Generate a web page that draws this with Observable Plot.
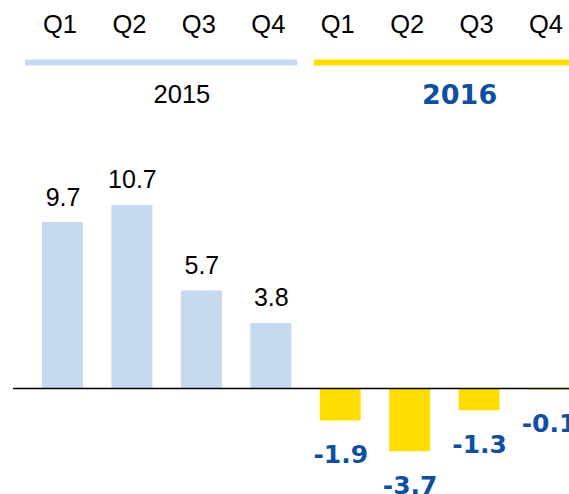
<!DOCTYPE html>
<html>
<head>
<meta charset="utf-8">
<script src="https://cdn.jsdelivr.net/npm/d3@7"></script>
<script src="https://cdn.jsdelivr.net/npm/@observablehq/plot@0.6"></script>
<style>
  html, body { margin: 0; padding: 0; background: #fff; overflow: hidden; }
  #chart { width: 569px; }
</style>
</head>
<body>
<div id="chart"></div>
<script>
// ---- data ----
const years = ["2015", "2015", "2015", "2015", "2016", "2016", "2016", "2016"];
const quarters = ["Q1", "Q2", "Q3", "Q4", "Q1", "Q2", "Q3", "Q4"];
const values = [9.7, 10.7, 5.7, 3.8, -1.9, -3.7, -1.3, -0.1];
const yearLabels = ["2015", "2016"];

// ---- styles ----
const LIGHT_BLUE = "#c6d9f0";
const YELLOW = "#ffdd00";
const DARK_BLUE = "#0e4f9f";
const FONT = "'Liberation Sans', Arial, sans-serif";
const BOLD_FONT = "'DejaVu Sans', 'Liberation Sans', Arial, sans-serif";

const data = values.map((v, i) => ({
  key: years[i] + " " + quarters[i],
  year: years[i],
  quarter: quarters[i],
  value: v,
  label: v.toFixed(1)
}));
const spans = yearLabels.map(y => ({year: y, first: y + " Q1", mid: y + " Q3", last: y + " Q4"}));

const xScale = {type: "band", domain: data.map(d => d.key), range: [13.55, 597.5], padding: 0.41, round: false, axis: null};
const colorScale = {domain: yearLabels, range: [LIGHT_BLUE, YELLOW]};

// ---- header ----
const header = Plot.plot({
  width: 569, height: 120,
  marginTop: 0, marginRight: 0, marginBottom: 0, marginLeft: 0,
  style: {fontFamily: FONT, background: "#fff"},
  x: xScale,
  y: {type: "point", domain: ["quarter", "rule", "year"], range: [24, 94.7], padding: 0, axis: null},
  color: colorScale,
  marks: [
    Plot.text(data, {x: "key", y: () => "quarter", text: "quarter", fontSize: 25.5, fill: "#000", dx: -3}),
    Plot.ruleY(spans.filter(s => s.year === "2015"), {x1: "first", x2: "last", y: () => "rule", stroke: "year", strokeWidth: 6, insetLeft: -17, insetRight: -6, dy: 3}),
    Plot.ruleY(spans.filter(s => s.year === "2016"), {x1: "first", x2: "last", y: () => "rule", stroke: "year", strokeWidth: 6, insetLeft: -6, insetRight: -6, dy: 3}),
    Plot.text(spans.filter(s => s.year === "2015"), {x: "mid", y: () => "year", text: "year", fontSize: 25.5, fill: "#000", dx: -20}),
    Plot.text(spans.filter(s => s.year === "2016"), {x: "mid", y: () => "year", text: "year", fontSize: 27, fontWeight: "bold", fontFamily: BOLD_FONT, fill: DARK_BLUE, dx: -20, dy: 1})
  ]
});

// ---- bars ----
const main = Plot.plot({
  width: 569, height: 374,
  marginTop: 0, marginRight: 0, marginBottom: 0, marginLeft: 0,
  style: {fontFamily: FONT, background: "#fff"},
  x: xScale,
  y: {domain: [-6.195, 15.663], axis: null},
  color: colorScale,
  marks: [
    Plot.barY(data, {x: "key", y: "value", fill: "year"}),
    Plot.ruleY([0], {stroke: "#000", strokeWidth: 1.3, insetLeft: 13}),
    Plot.text(data.filter(d => d.value >= 0), {x: "key", y: "value", text: "label", lineAnchor: "bottom", dy: -17, fontSize: 25, fill: "#000"}),
    Plot.text(data.filter(d => d.value < 0), {x: "key", y: "value", text: "label", lineAnchor: "bottom", dy: 42, fontSize: 25, fontWeight: "bold", fontFamily: BOLD_FONT, fill: DARK_BLUE})
  ]
});

const chart = document.getElementById("chart");
chart.appendChild(header);
chart.appendChild(main);
</script>
</body>
</html>
